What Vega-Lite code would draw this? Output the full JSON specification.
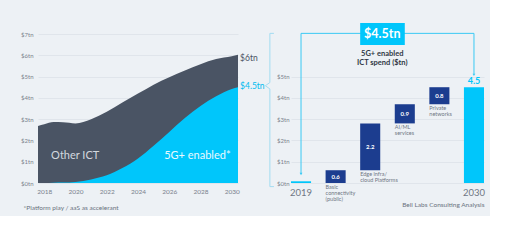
{
  "$schema": "https://vega.github.io/schema/vega-lite/v6.json",
  "background": "#edf1f5",
  "padding": {"left": 20, "top": 22, "right": 5, "bottom": 5},
  "spacing": 0,
  "config": {
    "view": {"stroke": null},
    "font": "Lato",
    "axis": {"labelColor": "#7a818d", "labelFont": "Lato", "ticks": false, "domain": false, "title": null, "gridColor": "#dce2e9", "gridWidth": 0.8}
  },
  "datasets": {
    "spend": [
      {"year": 2017.6, "total": 2.68, "fiveg": 0.0},
      {"year": 2018, "total": 2.76, "fiveg": 0.0},
      {"year": 2018.6, "total": 2.86, "fiveg": 0.01},
      {"year": 2019.2, "total": 2.85, "fiveg": 0.02},
      {"year": 2020, "total": 2.8, "fiveg": 0.05},
      {"year": 2021, "total": 3.0, "fiveg": 0.17},
      {"year": 2022, "total": 3.35, "fiveg": 0.36},
      {"year": 2023, "total": 3.78, "fiveg": 0.7},
      {"year": 2024, "total": 4.2, "fiveg": 1.15},
      {"year": 2025, "total": 4.62, "fiveg": 1.75},
      {"year": 2026, "total": 4.97, "fiveg": 2.4},
      {"year": 2027, "total": 5.28, "fiveg": 3.05},
      {"year": 2028, "total": 5.58, "fiveg": 3.62},
      {"year": 2029, "total": 5.82, "fiveg": 4.08},
      {"year": 2030, "total": 5.96, "fiveg": 4.42},
      {"year": 2030.4, "total": 6.02, "fiveg": 4.5}
    ],
    "bars": [
      {"cat": "2019", "lo": 0, "hi": 0.08, "kind": "end"},
      {"cat": "Basic", "lo": 0, "hi": 0.6, "mid": 0.3, "val": "0.6", "note": "Basic|connectivity|(public)", "kind": "step"},
      {"cat": "Edge", "lo": 0.6, "hi": 2.8, "mid": 1.7, "val": "2.2", "note": "Edge infra/|cloud Platforms", "kind": "step"},
      {"cat": "AI", "lo": 2.8, "hi": 3.7, "mid": 3.25, "val": "0.9", "note": "AI/ML|services", "kind": "step"},
      {"cat": "Private", "lo": 3.7, "hi": 4.5, "mid": 4.1, "val": "0.8", "note": "Private|networks", "kind": "step"},
      {"cat": "2030", "lo": 0, "hi": 4.5, "kind": "end"}
    ]
  },
  "hconcat": [
    {
      "width": 200,
      "height": 149,
      "title": {"text": "*Platform play / aaS as accelerant", "orient": "bottom", "anchor": "start", "frame": "bounds", "fontSize": 6.5, "fontWeight": "normal", "color": "#6b7380", "offset": 10, "dx": 3},
      "layer": [
        {
          "data": {"name": "spend"},
          "mark": {"type": "area", "color": "#4a5464", "interpolate": "monotone"},
          "encoding": {
            "x": {"field": "year", "type": "quantitative", "scale": {"domain": [2017.6, 2030.4], "nice": false, "zero": false},
                  "axis": {"values": [2018, 2020, 2022, 2024, 2026, 2028, 2030], "tickCount": 20, "format": "d", "grid": false, "labelFontSize": 6.5, "labelPadding": 5, "labelOverlap": false, "labelFlush": false, "labelBound": false}},
            "y": {"field": "total", "type": "quantitative", "scale": {"domain": [0, 7], "nice": false},
                  "axis": {"values": [0, 1, 2, 3, 4, 5, 6, 7], "tickCount": 20, "labelExpr": "'$' + datum.value + 'tn'", "grid": true, "labelFontSize": 6, "labelPadding": 5, "labelOverlap": false, "labelFlush": false, "labelBound": false}}
          }
        },
        {
          "data": {"name": "spend"},
          "mark": {"type": "area", "color": "#00c6fb", "interpolate": "monotone"},
          "encoding": {
            "x": {"field": "year", "type": "quantitative"},
            "y": {"field": "fiveg", "type": "quantitative"}
          }
        },
        {
          "data": {"values": [{"x": 2019.98, "y": 1.28, "t": "Other ICT"}]},
          "mark": {"type": "text", "fontSize": 11, "color": "#d3d8df", "baseline": "middle"},
          "encoding": {"x": {"field": "x", "type": "quantitative"}, "y": {"field": "y", "type": "quantitative"}, "text": {"field": "t"}}
        },
        {
          "data": {"values": [{"x": 2027.8, "y": 1.28, "t": "5G+ enabled*"}]},
          "mark": {"type": "text", "fontSize": 11, "color": "#eaf9ff", "baseline": "middle"},
          "encoding": {"x": {"field": "x", "type": "quantitative"}, "y": {"field": "y", "type": "quantitative"}, "text": {"field": "t"}}
        },
        {
          "data": {"values": [{"x": 2030.53, "y": 5.87, "t": "$6tn"}]},
          "mark": {"type": "text", "fontSize": 8.5, "color": "#4a5464", "align": "left", "baseline": "middle"},
          "encoding": {"x": {"field": "x", "type": "quantitative"}, "y": {"field": "y", "type": "quantitative"}, "text": {"field": "t"}}
        },
        {
          "data": {"values": [{"x": 2030.53, "y": 4.56, "t": "$4.5tn"}]},
          "mark": {"type": "text", "fontSize": 8.5, "color": "#00bbef", "align": "left", "baseline": "middle"},
          "encoding": {"x": {"field": "x", "type": "quantitative"}, "y": {"field": "y", "type": "quantitative"}, "text": {"field": "t"}}
        },
        {
          "data": {"values": [
            {"bx": 2032.7, "by": 7.03, "o": 1},
            {"bx": 2032.44, "by": 7.03, "o": 2},
            {"bx": 2032.44, "by": 4.72, "o": 3},
            {"bx": 2032.15, "by": 4.57, "o": 4},
            {"bx": 2032.44, "by": 4.42, "o": 5},
            {"bx": 2032.44, "by": -0.17, "o": 6},
            {"bx": 2032.7, "by": -0.17, "o": 7}
          ]},
          "mark": {"type": "line", "color": "#a3dcf1", "strokeWidth": 1},
          "encoding": {"x": {"field": "bx", "type": "quantitative"}, "y": {"field": "by", "type": "quantitative"}, "order": {"field": "o"}}
        }
      ]
    },
    {
      "width": 193,
      "height": 149,
      "title": {"text": "Bell Labs Consulting Analysis", "orient": "bottom", "anchor": "end", "fontSize": 6.5, "fontWeight": "normal", "color": "#6b7380", "offset": -1},
      "layer": [
        {
          "data": {"name": "bars"},
          "mark": {"type": "bar"},
          "encoding": {
            "x": {"field": "cat", "type": "nominal", "sort": null,
                  "scale": {"domain": ["2019", "Basic", "Edge", "AI", "Private", "2030"], "paddingInner": 0.42, "paddingOuter": 0},
                  "axis": {"labelExpr": "datum.label == '2019' || datum.label == '2030' ? datum.label : ''", "labelFontSize": 9.5, "labelAngle": 0, "labelPadding": 4, "labelColor": "#6f7784", "labelOverlap": false}},
            "y": {"field": "lo", "type": "quantitative", "scale": {"domain": [0, 7], "nice": false},
                  "axis": {"values": [0, 1, 2, 3, 4, 5], "tickCount": 20, "labelExpr": "'$' + datum.value + 'tn'", "grid": true, "labelFontSize": 6, "labelPadding": 2, "labelOverlap": false, "labelFlush": false, "labelBound": false}},
            "y2": {"field": "hi"},
            "color": {"field": "kind", "type": "nominal", "scale": {"domain": ["end", "step"], "range": ["#00c6fb", "#1c3d8f"]}, "legend": null}
          }
        },
        {
          "data": {"name": "bars"},
          "transform": [{"filter": "datum.kind == 'step'"}],
          "mark": {"type": "text", "fontSize": 6, "fontWeight": "bold", "color": "#ffffff", "baseline": "middle"},
          "encoding": {
            "x": {"field": "cat", "type": "nominal"},
            "y": {"field": "mid", "type": "quantitative"},
            "text": {"field": "val"}
          }
        },
        {
          "data": {"name": "bars"},
          "transform": [{"filter": "datum.kind == 'step'"}],
          "mark": {"type": "text", "fontSize": 5.5, "color": "#6f7784", "align": "left", "baseline": "top", "dy": 1.5, "lineBreak": "|", "lineHeight": 6.4},
          "encoding": {
            "x": {"field": "cat", "type": "nominal", "bandPosition": 0},
            "y": {"field": "lo", "type": "quantitative"},
            "text": {"field": "note"}
          }
        },
        {
          "data": {"values": [{"cat": "2030", "v": 4.5, "t": "4.5"}]},
          "mark": {"type": "text", "fontSize": 9, "fontWeight": "bold", "color": "#00c6fb", "baseline": "bottom", "dy": -1},
          "encoding": {
            "x": {"field": "cat", "type": "nominal"},
            "y": {"field": "v", "type": "quantitative"},
            "text": {"field": "t"}
          }
        },
        {
          "data": {"values": [
            {"cat": "2019", "v": 0.45, "o": 1},
            {"cat": "2019", "v": 7.03, "o": 2},
            {"cat": "2030", "v": 7.03, "o": 3},
            {"cat": "2030", "v": 5.12, "o": 4}
          ]},
          "mark": {"type": "line", "color": "#39c9f4", "strokeWidth": 1},
          "encoding": {
            "x": {"field": "cat", "type": "nominal"},
            "y": {"field": "v", "type": "quantitative"},
            "order": {"field": "o"}
          }
        },
        {
          "data": {"values": [{"cat": "2019", "v": 0.42}, {"cat": "2030", "v": 5.08}]},
          "mark": {"type": "point", "shape": "triangle-down", "filled": true, "size": 8, "color": "#39c9f4", "opacity": 1},
          "encoding": {
            "x": {"field": "cat", "type": "nominal"},
            "y": {"field": "v", "type": "quantitative"}
          }
        },
        {
          "data": {"values": [{"from": "Edge", "to": "AI", "lo": 6.48, "hi": 7.52}]},
          "mark": {"type": "rect", "color": "#00c6fb"},
          "encoding": {
            "x": {"field": "from", "type": "nominal", "bandPosition": 0},
            "x2": {"field": "to", "bandPosition": 0.5},
            "y": {"field": "lo", "type": "quantitative"},
            "y2": {"field": "hi"}
          }
        },
        {
          "data": {"values": [{"cat": "Edge", "v": 7.0, "t": "$4.5tn"}]},
          "mark": {"type": "text", "fontSize": 12.5, "fontWeight": "bold", "color": "#ffffff", "baseline": "middle"},
          "encoding": {
            "x": {"field": "cat", "type": "nominal", "bandPosition": 1.1},
            "y": {"field": "v", "type": "quantitative"},
            "text": {"field": "t"}
          }
        },
        {
          "data": {"values": [{"cat": "Edge", "v": 6.27, "t": "5G+ enabled|ICT spend ($tn)"}]},
          "mark": {"type": "text", "fontSize": 7.5, "fontWeight": "bold", "color": "#2f3744", "baseline": "top", "lineBreak": "|", "lineHeight": 9.3},
          "encoding": {
            "x": {"field": "cat", "type": "nominal", "bandPosition": 1.1},
            "y": {"field": "v", "type": "quantitative"},
            "text": {"field": "t"}
          }
        }
      ]
    }
  ]
}
